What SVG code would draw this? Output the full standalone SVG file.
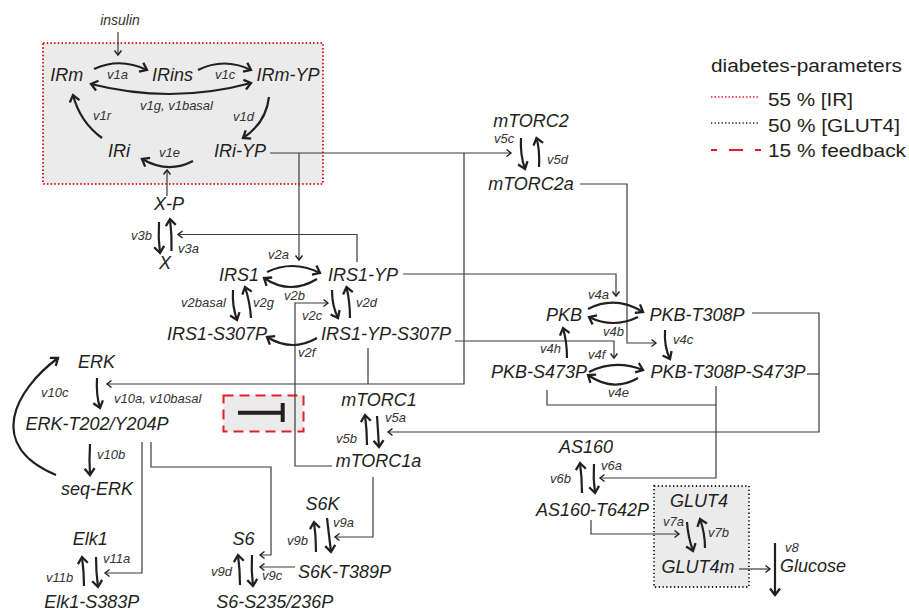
<svg xmlns="http://www.w3.org/2000/svg" width="909" height="612" viewBox="0 0 909 612">
<style>
.n{font-family:"Liberation Sans",Arial,sans-serif;font-style:italic;font-size:18px;fill:#231f20;text-anchor:middle}
.l{font-family:"Liberation Sans",Arial,sans-serif;font-style:italic;font-size:13px;fill:#333}
.g{font-family:"Liberation Sans",Arial,sans-serif;font-size:17.5px;fill:#231f20}
.c{fill:none;stroke:#3a3a3a;stroke-width:1.2}
.r{fill:none;stroke:#231f20;stroke-width:2.2}
</style>
<defs>
<marker id="mt" markerUnits="userSpaceOnUse" markerWidth="12" markerHeight="12" viewBox="-8 -6 10 12" refX="0" refY="0" orient="auto" overflow="visible"><path d="M-4.5,-3.5 L0,0 L-4.5,3.5" fill="none" stroke="#231f20" stroke-width="1.4"/></marker>
<marker id="mr" markerUnits="userSpaceOnUse" markerWidth="14" markerHeight="14" viewBox="-10 -7 12 14" refX="0" refY="0" orient="auto-start-reverse" overflow="visible"><path d="M-6.5,-5 L0,0 L-6.5,5" fill="none" stroke="#231f20" stroke-width="2.3"/></marker>
</defs>
<rect width="909" height="612" fill="#fff"/>

<g id="ir-box">
<rect x="43" y="43" width="280" height="141" fill="#ebebeb" stroke="#e31e24" stroke-width="2" stroke-dasharray="1.5 2.2"/>
</g>
<g id="glut4-box">
<rect x="654" y="486" width="95" height="101" fill="#ebebeb" stroke="#231f20" stroke-width="1.8" stroke-dasharray="1.3 2.5"/>
</g>
<g id="feedback-box">
<rect x="223.5" y="395.5" width="80" height="36" fill="#ebebeb" stroke="#e31e24" stroke-width="2" stroke-dasharray="10 6"/>
<path d="M238,412.7 H282 M282.7,403 V422" fill="none" stroke="#231f20" stroke-width="4"/>
</g>

<g id="legend">
<text class="g" x="711" y="72" textLength="191" lengthAdjust="spacingAndGlyphs">diabetes-parameters</text>
<line x1="711" y1="97" x2="758" y2="97" stroke="#e31e24" stroke-width="1.5" stroke-dasharray="1.5 2"/>
<text class="g" x="768" y="106" textLength="85" lengthAdjust="spacingAndGlyphs">55 % [IR]</text>
<line x1="711" y1="123" x2="758" y2="123" stroke="#231f20" stroke-width="1.3" stroke-dasharray="1.3 2.2"/>
<text class="g" x="768" y="132" textLength="132" lengthAdjust="spacingAndGlyphs">50 % [GLUT4]</text>
<line x1="711" y1="150" x2="761" y2="150" stroke="#e31e24" stroke-width="2" stroke-dasharray="14 12" stroke-dashoffset="8"/>
<text class="g" x="768" y="157" textLength="138" lengthAdjust="spacingAndGlyphs">15 % feedback</text>
</g>

<g id="connectors">
<path class="c" d="M118,32 V55" marker-end="url(#mt)"/>
<path class="c" d="M167,196 V170" marker-end="url(#mt)"/>
<path class="c" d="M270,153 H511" marker-end="url(#mt)"/>
<path class="c" d="M299,153 V260" marker-end="url(#mt)"/>
<path class="c" d="M464,153 V384 H107" marker-end="url(#mt)"/>
<path class="c" d="M368,348 V384"/>
<path class="c" d="M357,262 V234.5 H178" marker-end="url(#mt)"/>
<path class="c" d="M403,274 H616 V296" marker-end="url(#mt)"/>
<path class="c" d="M455,341 H614 V358" marker-end="url(#mt)"/>
<path class="c" d="M580,184 H627 V343 H656" marker-end="url(#mt)"/>
<path class="c" d="M752,313 H819 V432 H388" marker-end="url(#mt)"/>
<path class="c" d="M807,374 H819"/>
<path class="c" d="M547,390 V405 H716"/>
<path class="c" d="M716,386 V478 H600" marker-end="url(#mt)"/>
<path class="c" d="M591,520 V534 H679" marker-end="url(#mt)"/>
<path class="c" d="M739,569 H770" marker-end="url(#mt)"/>
<path class="c" d="M332,466 H295 V303 H328" marker-end="url(#mt)"/>
<path class="c" d="M142,442 V573 H105" marker-end="url(#mt)"/>
<path class="c" d="M151,442 V467 H271 V555 H260" marker-end="url(#mt)"/>
<path class="c" d="M373,477 V537 H335" marker-end="url(#mt)"/>
<path class="c" d="M295,567 H260" marker-end="url(#mt)"/>

<path class="r" d="M94,69 Q120,57 147,70" marker-end="url(#mr)"/>
<path class="r" d="M198,70 Q224,57 251,70" marker-end="url(#mr)"/>
<path class="r" d="M251,83 Q172,104.5 91,84" marker-start="url(#mr)" marker-end="url(#mr)"/>
<path class="r" d="M269,97 Q266,123 243,138" marker-end="url(#mr)"/>
<path class="r" d="M102,138 Q80,122 73,95" marker-end="url(#mr)"/>
<path class="r" d="M193,161 Q168,174 142,159" marker-end="url(#mr)"/>

<path class="r" d="M159,222 Q158,238 160,253" marker-end="url(#mr)"/>
<path class="r" d="M171.5,251 Q172,235 170,219" marker-end="url(#mr)"/>

<path class="r" d="M267,272 Q293,259.5 320,273" marker-end="url(#mr)"/>
<path class="r" d="M317,279 Q290,295.5 264,278" marker-end="url(#mr)"/>
<path class="r" d="M233,290 Q232,306 237,320" marker-end="url(#mr)"/>
<path class="r" d="M251,318 Q250,302 245,287" marker-end="url(#mr)"/>
<path class="r" d="M332,290 Q332,306 338,318" marker-end="url(#mr)"/>
<path class="r" d="M350,318 Q350,302 346.5,287" marker-end="url(#mr)"/>
<path class="r" d="M317,338 Q292,352.5 267,337" marker-end="url(#mr)"/>

<path class="r" d="M521,138 Q520,155 525,169" marker-end="url(#mr)"/>
<path class="r" d="M539,167 Q540,150 536.5,138" marker-end="url(#mr)"/>

<path class="r" d="M588,309 Q615,295 643,312" marker-end="url(#mr)"/>
<path class="r" d="M638,317 Q613,329 589,317" marker-end="url(#mr)"/>
<path class="r" d="M665,330 Q664,347 670,359" marker-end="url(#mr)"/>
<path class="r" d="M567,358 Q567,342 563,328" marker-end="url(#mr)"/>
<path class="r" d="M589,372 Q615,359 643,370" marker-end="url(#mr)"/>
<path class="r" d="M638,378 Q613,392.5 588,375" marker-end="url(#mr)"/>

<path class="r" d="M56,475 C-15,445 15,390 58,358" marker-end="url(#mr)"/>
<path class="r" d="M97,378 Q96,395 100,408" marker-end="url(#mr)"/>
<path class="r" d="M90,444 Q89,460 90,475" marker-end="url(#mr)"/>

<path class="r" d="M377,416 Q378,432 379,447" marker-end="url(#mr)"/>
<path class="r" d="M367,445 Q367,430 365,415" marker-end="url(#mr)"/>

<path class="r" d="M327,518 Q329,535 331,552" marker-end="url(#mr)"/>
<path class="r" d="M316,552 Q316,536 314,522" marker-end="url(#mr)"/>
<path class="r" d="M252,555 Q251,570 253,586" marker-end="url(#mr)"/>
<path class="r" d="M240,585 Q240,570 238,555" marker-end="url(#mr)"/>
<path class="r" d="M96,557 Q96,572 98,587" marker-end="url(#mr)"/>
<path class="r" d="M84,586 Q84,572 82,557" marker-end="url(#mr)"/>

<path class="r" d="M594,464 Q593,479 595,493" marker-end="url(#mr)"/>
<path class="r" d="M582,493 Q582,478 580,463" marker-end="url(#mr)"/>
<path class="r" d="M687,522 Q688,537 693,551" marker-end="url(#mr)"/>
<path class="r" d="M705,548 Q705,533 700,519" marker-end="url(#mr)"/>
<path class="r" d="M775,543 V595" marker-end="url(#mr)"/>
</g>

<g id="labels">
<text class="l" x="120" y="25" style="font-size:14px" text-anchor="middle">insulin</text>
<text class="l" x="107" y="79">v1a</text>
<text class="l" x="215" y="79">v1c</text>
<text class="l" x="140" y="110">v1g, v1basal</text>
<text class="l" x="233" y="121">v1d</text>
<text class="l" x="93" y="120">v1r</text>
<text class="l" x="159" y="157">v1e</text>
<text class="l" x="131" y="240">v3b</text>
<text class="l" x="178" y="253">v3a</text>
<text class="l" x="268" y="259">v2a</text>
<text class="l" x="284" y="300">v2b</text>
<text class="l" x="181" y="307">v2basal</text>
<text class="l" x="253" y="307">v2g</text>
<text class="l" x="302" y="320">v2c</text>
<text class="l" x="356" y="307">v2d</text>
<text class="l" x="298" y="357">v2f</text>
<text class="l" x="494" y="143">v5c</text>
<text class="l" x="547" y="164">v5d</text>
<text class="l" x="588" y="299">v4a</text>
<text class="l" x="603" y="336">v4b</text>
<text class="l" x="673" y="344">v4c</text>
<text class="l" x="540" y="353">v4h</text>
<text class="l" x="588" y="359">v4f</text>
<text class="l" x="608" y="397">v4e</text>
<text class="l" x="41" y="397">v10c</text>
<text class="l" x="114" y="403">v10a, v10basal</text>
<text class="l" x="97" y="459">v10b</text>
<text class="l" x="385" y="422">v5a</text>
<text class="l" x="336" y="443">v5b</text>
<text class="l" x="333" y="527">v9a</text>
<text class="l" x="287" y="545">v9b</text>
<text class="l" x="262" y="580">v9c</text>
<text class="l" x="211" y="576">v9d</text>
<text class="l" x="103" y="563">v11a</text>
<text class="l" x="46" y="582">v11b</text>
<text class="l" x="601" y="470">v6a</text>
<text class="l" x="550" y="483">v6b</text>
<text class="l" x="663" y="526">v7a</text>
<text class="l" x="708" y="537">v7b</text>
<text class="l" x="785" y="552">v8</text>
</g>

<g id="IRm"><text class="n" x="66.7" y="81">IRm</text></g>
<g id="IRins"><text class="n" x="172.5" y="81">IRins</text></g>
<g id="IRm-YP"><text class="n" x="288" y="81">IRm-YP</text></g>
<g id="IRi"><text class="n" x="119" y="157">IRi</text></g>
<g id="IRi-YP"><text class="n" x="240" y="157">IRi-YP</text></g>
<g id="X-P"><text class="n" x="169" y="210">X-P</text></g>
<g id="X"><text class="n" x="165" y="269">X</text></g>
<g id="IRS1"><text class="n" x="239" y="281">IRS1</text></g>
<g id="IRS1-YP"><text class="n" x="363" y="281">IRS1-YP</text></g>
<g id="IRS1-S307P"><text class="n" x="217" y="340">IRS1-S307P</text></g>
<g id="IRS1-YP-S307P"><text class="n" x="386" y="340">IRS1-YP-S307P</text></g>
<g id="mTORC2"><text class="n" x="531" y="127">mTORC2</text></g>
<g id="mTORC2a"><text class="n" x="531" y="190">mTORC2a</text></g>
<g id="PKB"><text class="n" x="564" y="321">PKB</text></g>
<g id="PKB-T308P"><text class="n" x="697" y="321">PKB-T308P</text></g>
<g id="PKB-S473P"><text class="n" x="539" y="378">PKB-S473P</text></g>
<g id="PKB-T308P-S473P"><text class="n" x="728" y="378">PKB-T308P-S473P</text></g>
<g id="ERK"><text class="n" x="96.5" y="368">ERK</text></g>
<g id="ERK-T202-Y204P"><text class="n" x="97" y="430">ERK-T202/Y204P</text></g>
<g id="seq-ERK"><text class="n" x="97" y="495">seq-ERK</text></g>
<g id="mTORC1"><text class="n" x="379" y="406">mTORC1</text></g>
<g id="mTORC1a"><text class="n" x="378.5" y="467">mTORC1a</text></g>
<g id="S6K"><text class="n" x="322.5" y="510">S6K</text></g>
<g id="S6K-T389P"><text class="n" x="344.5" y="578">S6K-T389P</text></g>
<g id="S6"><text class="n" x="243.5" y="545">S6</text></g>
<g id="S6-S235-236P"><text class="n" x="274.7" y="608">S6-S235/236P</text></g>
<g id="Elk1"><text class="n" x="90.3" y="545">Elk1</text></g>
<g id="Elk1-S383P"><text class="n" x="91.7" y="608">Elk1-S383P</text></g>
<g id="AS160"><text class="n" x="586" y="453">AS160</text></g>
<g id="AS160-T642P"><text class="n" x="592.5" y="516">AS160-T642P</text></g>
<g id="GLUT4"><text class="n" x="699" y="507">GLUT4</text></g>
<g id="GLUT4m"><text class="n" x="698" y="573">GLUT4m</text></g>
<g id="Glucose"><text class="n" x="813" y="572">Glucose</text></g>
</svg>
